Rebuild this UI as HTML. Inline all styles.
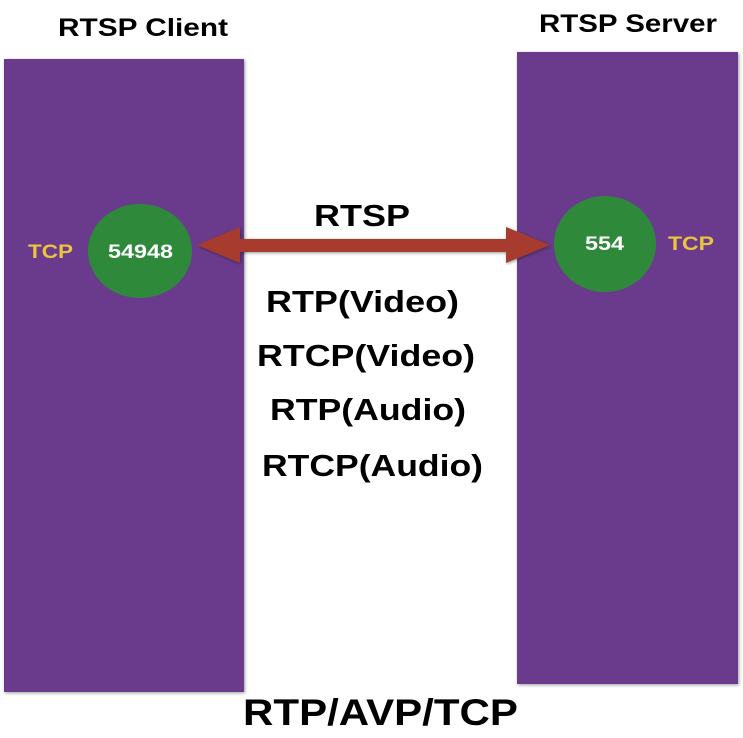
<!DOCTYPE html>
<html><head><style>body{margin:0;background:#fff}svg{display:block}</style></head><body>
<svg width="743" height="738" viewBox="0 0 743 738" xmlns="http://www.w3.org/2000/svg" font-family="Liberation Sans, sans-serif" font-weight="bold">
<defs><filter id="s" x="-5%" y="-5%" width="110%" height="110%"><feDropShadow dx="1" dy="1" stdDeviation="1.5" flood-opacity="0.4"/></filter></defs>
<rect x="4" y="59" width="240" height="633" fill="#6a3a8c" filter="url(#s)"/>
<rect x="517" y="52" width="221" height="632" fill="#6a3a8c" filter="url(#s)"/>
<text x="58" y="36" font-size="25" textLength="170" lengthAdjust="spacingAndGlyphs">RTSP Client</text>
<text x="539" y="32" font-size="25" textLength="178" lengthAdjust="spacingAndGlyphs">RTSP Server</text>
<ellipse cx="140" cy="251" rx="52" ry="47" fill="#2e8a3a"/>
<ellipse cx="605" cy="244" rx="51" ry="48" fill="#2e8a3a"/>
<text x="108" y="258" font-size="19" fill="#fff" textLength="65" lengthAdjust="spacingAndGlyphs">54948</text>
<text x="585" y="250" font-size="19" fill="#fff" textLength="39" lengthAdjust="spacingAndGlyphs">554</text>
<text x="28" y="258" font-size="19" fill="#ecc43c" textLength="45" lengthAdjust="spacingAndGlyphs">TCP</text>
<text x="668" y="250" font-size="19" fill="#ecc43c" textLength="46" lengthAdjust="spacingAndGlyphs">TCP</text>
<polygon points="197,245 240,227 240,239 506,239 506,227 550,245 506,263 506,252 240,252 240,263" fill="#a63a2e" filter="url(#s)"/>
<text x="314" y="226" font-size="31" textLength="96" lengthAdjust="spacingAndGlyphs">RTSP</text>
<text x="266" y="312" font-size="31" textLength="193" lengthAdjust="spacingAndGlyphs">RTP(Video)</text>
<text x="257" y="366" font-size="31" textLength="218" lengthAdjust="spacingAndGlyphs">RTCP(Video)</text>
<text x="270" y="420" font-size="31" textLength="196" lengthAdjust="spacingAndGlyphs">RTP(Audio)</text>
<text x="262" y="476" font-size="31" textLength="221" lengthAdjust="spacingAndGlyphs">RTCP(Audio)</text>
<text x="243" y="725" font-size="37" textLength="275" lengthAdjust="spacingAndGlyphs">RTP/AVP/TCP</text>
</svg>
</body></html>
